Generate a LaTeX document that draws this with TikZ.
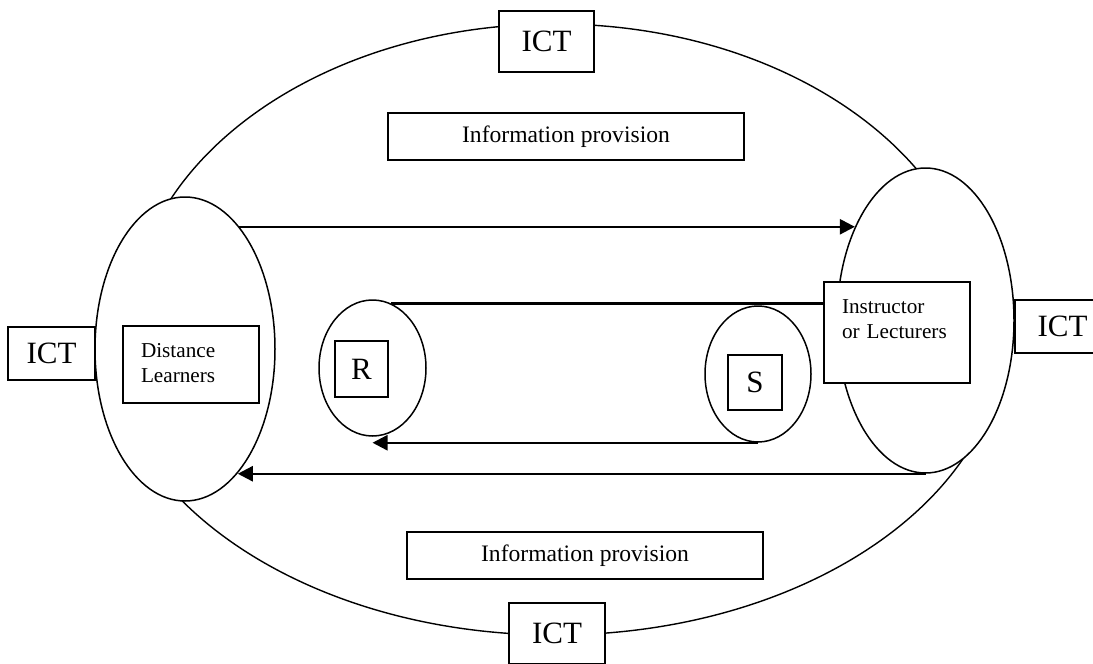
\documentclass[tikz,border=0pt]{standalone}
\usepackage{fontspec}
\setmainfont{Liberation Serif}
\usetikzlibrary{arrows.meta,shapes.geometric}

\begin{document}
\begin{tikzpicture}[x=1pt,y=-1pt,>={Triangle[length=15pt,width=15pt]},
        party/.style={ellipse,draw,fill=white,line width=1.5pt,inner sep=0pt},
        ict/.style={draw,fill=white,line width=1.5pt,inner sep=0pt,minimum width=95pt,
          minimum height=61pt,font=\fontsize{31}{37}\selectfont},
        info/.style={draw,fill=white,line width=1.5pt,inner sep=0pt,minimum width=356pt,
          minimum height=47pt,font=\fontsize{23.6}{28}\selectfont},
        role/.style={draw,fill=white,line width=1.5pt,align=left,inner xsep=18pt,
          inner ysep=8pt,text height=23pt,font=\fontsize{21.2}{25}\selectfont},
        letter/.style={draw,fill=white,line width=1.5pt,inner sep=0pt,
          font=\fontsize{31}{37}\selectfont},
        flow/.style={line width=2.4pt}]

  \useasboundingbox (0,0) rectangle (1093,664);
  \clip (0,0) rectangle (1093,664);

  % outer ring
  \draw[line width=1.4pt] (130,330) arc[start angle=180,end angle=0,x radius=425pt,y radius=306pt];
  \draw[line width=1.4pt] (1005,330) arc[start angle=0,end angle=-180,x radius=450pt,y radius=305pt];

  \node[party,minimum width=180pt,minimum height=304pt] (dl) at (185,349) {};
  \node[party,minimum width=177pt,minimum height=305pt] (il) at (925.5,320.5) {};
  \node[party,minimum width=107pt,minimum height=136pt] (rcv) at (372.5,368) {};
  \node[party,minimum width=106pt,minimum height=136pt] (snd) at (758,374) {};

  \node[ict] (ict1) at (546.5,41.5) {ICT};
  \node[ict,minimum width=87pt,minimum height=53pt] (ict2) at (51.5,353.5) {ICT};
  \node[ict,minimum height=53pt] (ict3) at (1062.5,326.5) {ICT};
  \node[ict,minimum width=96pt] (ict4) at (557,633.5) {ICT};

  \node[info] (info1) at (566,136.5) {Information provision};
  \node[info] (info2) at (585,555.5) {Information provision};

  \node[role,text width=100pt,text depth=38pt] (dlbox) at (191,364.5) {Distance\\Learners};
  \node[role,text width=110pt,text depth=62pt] (ilbox) at (897,332.5) {Instructor\\or Lecturers};

  \node[letter,minimum width=53pt,minimum height=56pt] (rbox) at (361.5,369) {R};
  \node[letter,minimum width=54pt,minimum height=55pt] (sbox) at (755,382.5) {S};

  % messages
  \draw[flow,->] (dl.66) -- (dl.66 -| il.127);
  \draw[flow] (rcv.74) -- (rcv.74 -| ilbox.west);
  \draw[flow,->] (snd.south) -- (snd.south -| rcv.south);
  \draw[flow,->] (il.south) -- (il.south -| dl.-67);

\end{tikzpicture}
\end{document}
